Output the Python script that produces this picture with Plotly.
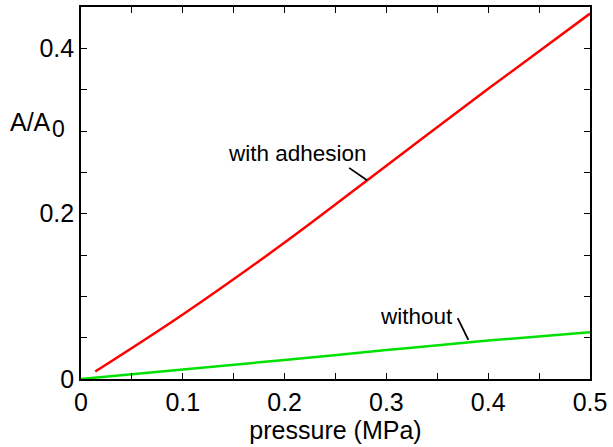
import plotly.graph_objects as go

# data
pressure_adh = [0.014, 0.1, 0.2, 0.3, 0.4, 0.5]
area_adh = [0.009, 0.078, 0.165, 0.258, 0.351, 0.442]
pressure_without = [0.0, 0.1, 0.2, 0.3, 0.4, 0.5]
area_without = [0.0, 0.0115, 0.023, 0.035, 0.0465, 0.0566]

x_tickvals = [0, 0.05, 0.1, 0.15, 0.2, 0.25, 0.3, 0.35, 0.4, 0.45, 0.5]
x_ticktext = ["0", "", "0.1", "", "0.2", "", "0.3", "", "0.4", "", "0.5"]
y_tickvals = [0, 0.05, 0.1, 0.15, 0.2, 0.25, 0.3, 0.35, 0.4, 0.45]
y_ticktext = ["0", "", "", "", "0.2", "", "", "", "0.4", ""]

FONT = "Liberation Sans, Arial, Helvetica, sans-serif"

fig = go.Figure()
fig.add_trace(go.Scatter(x=pressure_adh, y=area_adh, mode="lines",
                         line=dict(color="#ff0000", width=2.5, shape="spline", smoothing=1.0)))
fig.add_trace(go.Scatter(x=pressure_without, y=area_without, mode="lines",
                         line=dict(color="#00e000", width=2.5, shape="spline", smoothing=1.0)))

axis_common = dict(showgrid=False, zeroline=False, showline=True, linecolor="black",
                   linewidth=1.6, mirror="allticks", ticks="inside", ticklen=6,
                   tickwidth=1.3, tickcolor="black",
                   tickfont=dict(family=FONT, size=25, color="black"))
fig.update_xaxes(range=[0, 0.5], tickmode="array", tickvals=x_tickvals, ticktext=x_ticktext,
                 title=dict(text="pressure (MPa)", font=dict(family=FONT, size=25, color="black"),
                            standoff=0),
                 **axis_common)
fig.update_yaxes(range=[0, 0.45], tickmode="array", tickvals=y_tickvals, ticktext=y_ticktext,
                 **axis_common)

# labels
fig.add_annotation(x=0.2125, y=0.2727, text="with adhesion", showarrow=False,
                   font=dict(family=FONT, size=22.5, color="black"))
fig.add_shape(type="line", x0=0.2634, y0=0.2554, x1=0.281, y1=0.2404,
              line=dict(color="black", width=1.8))
fig.add_annotation(x=0.330, y=0.0755, text="without", showarrow=False,
                   font=dict(family=FONT, size=22.5, color="black"))
fig.add_shape(type="line", x0=0.370, y0=0.0736, x1=0.3805, y1=0.0473,
              line=dict(color="black", width=1.8))

# y axis label
fig.add_annotation(xref="paper", yref="y", x=-0.055, y=0.311, xanchor="right", yanchor="middle",
                   text="A/A", showarrow=False, font=dict(family=FONT, size=25, color="black"))
fig.add_annotation(xref="paper", yref="y", x=-0.0275, y=0.302, xanchor="right", yanchor="middle",
                   text="0", showarrow=False, font=dict(family=FONT, size=23, color="black"))

fig.update_layout(width=613, height=447, showlegend=False,
                  margin=dict(l=81, r=23, t=7, b=68, autoexpand=False),
                  paper_bgcolor="white", plot_bgcolor="white")

fig.write_html("out.html", config={"displayModeBar": False},
               post_script="document.body.style.margin='0';")
